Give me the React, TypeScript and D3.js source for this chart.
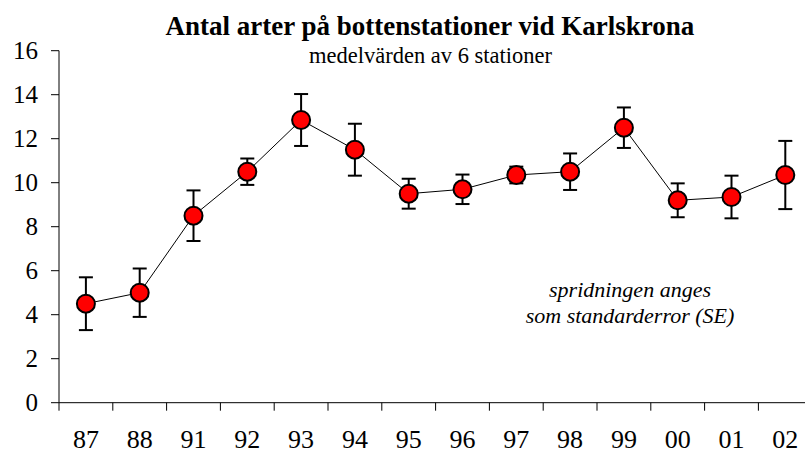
import React from "react";
import * as d3 from "d3";

const years = ["87", "88", "91", "92", "93", "94", "95", "96", "97", "98", "99", "00", "01", "02"];
const means = [4.5, 5.0, 8.5, 10.5, 12.85, 11.5, 9.5, 9.7, 10.35, 10.5, 12.5, 9.2, 9.35, 10.35];
const se = [1.2, 1.1, 1.15, 0.6, 1.18, 1.18, 0.68, 0.67, 0.38, 0.83, 0.92, 0.77, 0.97, 1.55];
const yTicks = [0, 2, 4, 6, 8, 10, 12, 14, 16];

const width = 805;
const height = 453;
const margin = { top: 50.7, left: 59, bottom: 402.7 };
const font = "Liberation Serif";

const App = () => {
  const x = d3
    .scaleBand()
    .domain(years)
    .range([margin.left, margin.left + years.length * 53.8]);

  const y = d3.scaleLinear().domain([0, 16]).range([margin.bottom, margin.top]);

  const cx = (i) => x(years[i]) + x.bandwidth() / 2;

  const line = d3
    .line()
    .x((d, i) => cx(i))
    .y((d) => y(d));

  const cap = 7;

  return (
    <svg
      width={width}
      height={height}
      style={{ position: "absolute", left: 0, top: 0, background: "#fff", fontFamily: font }}
    >
      {/* titles */}
      <text x={430} y={35} textAnchor="middle" fontSize={27} fontWeight="bold">
        Antal arter på bottenstationer vid Karlskrona
      </text>
      <text x={430.5} y={63} textAnchor="middle" fontSize={22.5}>
        medelvärden av 6 stationer
      </text>

      {/* y axis */}
      <line x1={margin.left} x2={margin.left} y1={y(16)} y2={y(0)} stroke="#000" strokeWidth={1} />
      {yTicks.map((t) => (
        <g key={t}>
          <line x1={margin.left - 8} x2={margin.left} y1={y(t)} y2={y(t)} stroke="#000" />
          <text x={38} y={y(t)} dy="0.35em" textAnchor="end" fontSize={25}>
            {t}
          </text>
        </g>
      ))}

      {/* x axis */}
      <line x1={margin.left} x2={width} y1={y(0)} y2={y(0)} stroke="#000" />
      {years.map((yr, i) => (
        <g key={yr}>
          <line x1={x(yr)} x2={x(yr)} y1={y(0)} y2={y(0) + 8} stroke="#000" />
          <text x={cx(i)} y={447.5} textAnchor="middle" fontSize={26}>
            {yr}
          </text>
        </g>
      ))}

      {/* connecting line */}
      <path d={line(means)} fill="none" stroke="#000" strokeWidth={1} />

      {/* error bars */}
      {means.map((m, i) => (
        <g key={"e" + i} stroke="#000" strokeWidth={2}>
          <line x1={cx(i)} x2={cx(i)} y1={y(m - se[i])} y2={y(m + se[i])} />
          <line x1={cx(i) - cap} x2={cx(i) + cap} y1={y(m + se[i])} y2={y(m + se[i])} />
          <line x1={cx(i) - cap} x2={cx(i) + cap} y1={y(m - se[i])} y2={y(m - se[i])} />
        </g>
      ))}

      {/* markers */}
      {means.map((m, i) => (
        <circle key={"c" + i} cx={cx(i)} cy={y(m)} r={9} fill="#ff0000" stroke="#000" strokeWidth={2} />
      ))}

      {/* note */}
      <text x={630} y={296.5} textAnchor="middle" fontSize={22} fontStyle="italic">
        spridningen anges
      </text>
      <text x={630} y={323} textAnchor="middle" fontSize={22} fontStyle="italic">
        som standarderror (SE)
      </text>
    </svg>
  );
};

export default App;
